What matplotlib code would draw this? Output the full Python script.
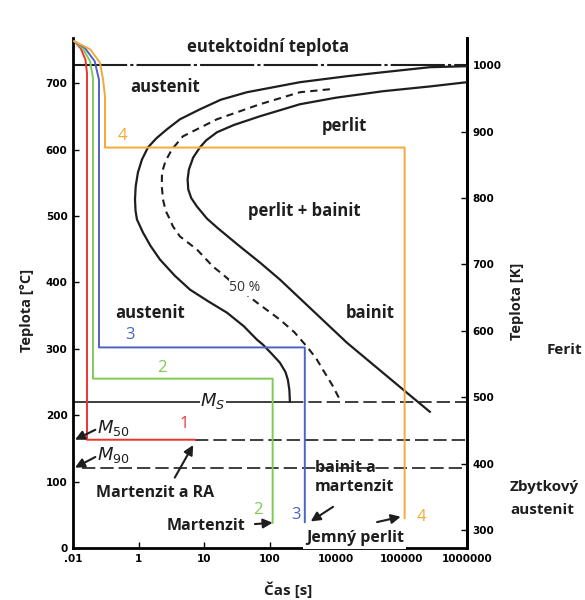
import numpy as np
import matplotlib
matplotlib.use('Agg')
import matplotlib.pyplot as plt

plt.rcParams['font.family'] = ['Open Sans', 'DejaVu Sans']

# osa x: pozice dekad (0..6) a jejich popisky
time_ticks = [0, 1, 2, 3, 4, 5, 6]
time_labels = ['.01', '1', '10', '100', '10000', '100000', '1000000']
temp_ticks = [0, 100, 200, 300, 400, 500, 600, 700]
kelvin_ticks = [300, 400, 500, 600, 700, 800, 900, 1000]

# charakteristické teploty [°C]
t_eutekt = 727
t_ms = 220
t_m50 = 163
t_m90 = 121

# začátek přeměny
start_x = [5.997, 5.434, 4.718, 4.170, 3.455, 2.648, 2.25, 1.933, 1.629, 1.431, 1.27, 1.142,
           1.05, 0.989, 0.955, 0.944, 0.952, 0.974, 1.065, 1.18, 1.324, 1.55, 1.781, 2.05,
           2.344, 2.60, 2.801, 2.892, 3.03, 3.151, 3.235, 3.272, 3.295, 3.303]
start_t = [725.5, 724, 716.4, 710.4, 701.4, 686.3, 675, 660.6, 645.6, 630.5, 617, 603.3,
           585, 565.6, 545, 524.9, 508, 494.7, 475.1, 455, 434.4, 410, 389.1, 372,
           354.4, 334, 313.7, 306.2, 292, 279, 265, 253.4, 238, 220.2]
# 50 % přeměny
half_x = [3.912, 3.455, 2.846, 2.192, 1.674, 1.507, 1.41, 1.355, 1.352, 1.370, 1.41, 1.476,
          1.522, 1.629, 1.887, 2.131, 2.283, 2.55, 2.801, 3.151, 3.37, 3.562, 3.70, 3.805,
          3.95, 4.064]
half_t = [690.8, 686.3, 668.2, 645.6, 619.9, 600.3, 583, 565.6, 545, 524.9, 508, 494.7,
          484.2, 469.1, 449.5, 423.8, 411.8, 389, 369.5, 343.9, 325, 303.2, 286, 268.5,
          245, 223.2]
# konec přeměny
end_x = [5.997, 5.434, 4.718, 4.0, 3.455, 2.846, 2.45, 2.192, 2.03, 1.933, 1.83, 1.765,
         1.745, 1.755, 1.80, 1.887, 2.04, 2.20, 2.542, 2.846, 3.151, 4.170, 5.084, 5.434]
end_t = [701.4, 695, 687.8, 678, 668.2, 650.1, 637, 626, 614, 603.3, 588, 570,
         555, 540, 527, 514.3, 496, 482, 454, 429.9, 404.2, 309.2, 233.8, 205.1]

# ochlazovací křivky 1-4
cool1_x = [0.02, 0.12, 0.19, 0.213, 0.213, 1.857]
cool1_t = [763, 752, 735, 715, 163, 163]
cool2_x = [0.02, 0.15, 0.26, 0.304, 0.304, 3.04, 3.04]
cool2_t = [763, 752, 733, 708, 255, 255, 38]
cool3_x = [0.02, 0.18, 0.33, 0.396, 0.396, 3.53, 3.53]
cool3_t = [763, 753, 733, 705, 302, 302, 39]
cool4_x = [0.02, 0.26, 0.41, 0.457, 0.487, 0.487, 5.05, 5.05]
cool4_t = [763, 751, 731, 706, 680, 603, 603, 45]

c_red = '#e8352f'
c_green = '#7fcb58'
c_blue = '#4d62c3'
c_orange = '#f4a93a'
ink = '#1e1e1e'

fig = plt.figure(figsize=(5.85, 6.0), dpi=100)
ax = fig.add_axes([0.1248, 0.0867, 0.6735, 0.85])
ax.set_xlim(0, 6)
ax.set_ylim(0, 768)

# eutektoidní teplota
ax.axhline(t_eutekt, color=ink, lw=1.5, ls=(0, (26, 1.5, 1.5, 1.5)), zorder=2)

# Ms, M50, M90
ax.plot([0, start_x[-1]], [t_ms, t_ms], color=ink, lw=1.2, zorder=2)
ax.plot([start_x[-1], 6], [t_ms, t_ms], color=ink, lw=1.2, ls=(0, (8, 3)), zorder=2)
ax.plot([cool1_x[-1], 6], [t_m50, t_m50], color=ink, lw=1.2, ls=(0, (8, 3)), zorder=2)
ax.plot([0.14, 6], [t_m90, t_m90], color=ink, lw=1.2, ls=(0, (8, 3)), zorder=2)

# C-křivky
ax.plot(start_x, start_t, color=ink, lw=1.6, zorder=3, solid_joinstyle='round')
ax.plot(half_x, half_t, color=ink, lw=1.5, ls=(0, (3.5, 2.5)), zorder=3)
ax.plot(end_x, end_t, color=ink, lw=1.6, zorder=3, solid_joinstyle='round')

ax.plot(cool1_x, cool1_t, color=c_red, lw=1.4, zorder=4)
ax.plot(cool2_x, cool2_t, color=c_green, lw=1.4, zorder=4)
ax.plot(cool3_x, cool3_t, color=c_blue, lw=1.4, zorder=4)
ax.plot(cool4_x, cool4_t, color=c_orange, lw=1.4, zorder=4)

lab = dict(fontsize=12, fontweight='bold', color=ink, ha='center', va='center', zorder=5)
ax.text(2.97, 755, 'eutektoidní teplota', **lab)
ax.text(1.40, 694, 'austenit', **lab)
ax.text(4.14, 635, 'perlit', **lab)
ax.text(3.53, 507, 'perlit + bainit', **lab)
ax.text(1.17, 354, 'austenit', **lab)
ax.text(4.52, 354, 'bainit', **lab)
ax.text(2.62, 392, '50 %', fontsize=10, color='#333333', ha='center', va='center', zorder=5,
        bbox=dict(facecolor='white', edgecolor='none', pad=0.5))
small = dict(fontsize=11.5, fontweight='bold', color=ink, va='center', zorder=5)
ax.text(1.25, 83, 'Martenzit a RA', ha='center', **small)
ax.text(2.02, 33, 'Martenzit', ha='center', **small)
ax.text(3.68, 106, 'bainit a\nmartenzit', ha='left', linespacing=1.2, **small)
ax.text(4.29, 15, 'Jemný perlit', fontsize=11.5, fontweight='bold', color=ink, ha='center',
        va='center', zorder=6, clip_on=False,
        bbox=dict(facecolor='white', edgecolor='none', pad=2))

ax.text(2.13, 222, '$M_S$', fontsize=13, color=ink, ha='center', va='center', zorder=5,
        bbox=dict(facecolor='white', edgecolor='none', pad=0.5))
ax.text(0.365, 181, '$M_{50}$', fontsize=13, color=ink, ha='left', va='center', zorder=5)
ax.text(0.365, 140, '$M_{90}$', fontsize=13, color=ink, ha='left', va='center', zorder=5)

num = dict(fontsize=12, ha='center', va='center', zorder=5)
ax.text(1.70, 187, '1', color=c_red, **num)
ax.text(1.355, 271, '2', color=c_green, **num)
ax.text(2.82, 57, '2', color=c_green, **num)
ax.text(0.87, 320, '3', color=c_blue, **num)
ax.text(3.39, 50, '3', color=c_blue, **num)
ax.text(0.75, 620, '4', color=c_orange, **num)
ax.text(5.31, 47, '4', color=c_orange, **num)

arr = dict(arrowstyle='-|>', color=ink, lw=1.5, mutation_scale=14, shrinkA=0, shrinkB=0)
ax.annotate('', xy=(0.03, 163), xytext=(0.34, 178), arrowprops=arr, zorder=5)
ax.annotate('', xy=(0.03, 121), xytext=(0.34, 137), arrowprops=arr, zorder=5)
ax.annotate('', xy=(1.83, 155), xytext=(1.55, 106), arrowprops=arr, zorder=5)
ax.annotate('', xy=(3.04, 38), xytext=(2.77, 36), arrowprops=arr, zorder=5)
ax.annotate('', xy=(3.62, 40), xytext=(3.96, 62), arrowprops=arr, zorder=5)
ax.annotate('', xy=(4.99, 47), xytext=(4.63, 39), arrowprops=arr, zorder=5)

# osy
for side in ['left', 'bottom', 'right']:
    ax.spines[side].set_linewidth(2)
ax.spines['top'].set_visible(False)
ax.set_xticks(time_ticks)
ax.set_xticklabels(time_labels)
ax.set_yticks(temp_ticks)
ax.tick_params(direction='in', length=4, width=1, labelsize=7.5, pad=4)
for t in ax.get_xticklabels() + ax.get_yticklabels():
    t.set_fontweight('bold')
    t.set_family('DejaVu Sans')

sec = ax.secondary_yaxis('right', functions=(lambda c: c + 273, lambda k: k - 273))
sec.set_yticks(kelvin_ticks)
sec.spines['right'].set_linewidth(2)
sec.tick_params(direction='in', length=4, width=1, labelsize=7.5, pad=4)
for t in sec.get_yticklabels():
    t.set_fontweight('bold')
    t.set_family('DejaVu Sans')

fig.text(0.046, 0.482, 'Teplota [°C]', rotation=90, fontsize=10.5, fontweight='bold',
         color=ink, ha='center', va='center')
fig.text(0.884, 0.497, 'Teplota [K]', rotation=90, fontsize=10.5, fontweight='bold',
         color=ink, ha='center', va='center')
fig.text(0.492, 0.017, 'Čas [s]', fontsize=11, fontweight='bold', color=ink,
         ha='center', va='center')
fig.text(0.935, 0.417, 'Ferit', fontsize=11, fontweight='bold', color=ink, ha='left', va='center')
fig.text(0.872, 0.188, 'Zbytkový', fontsize=11, fontweight='bold', color=ink, ha='left', va='center')
fig.text(0.872, 0.150, 'austenit', fontsize=11, fontweight='bold', color=ink, ha='left', va='center')

fig.savefig('out.png', dpi=100)
